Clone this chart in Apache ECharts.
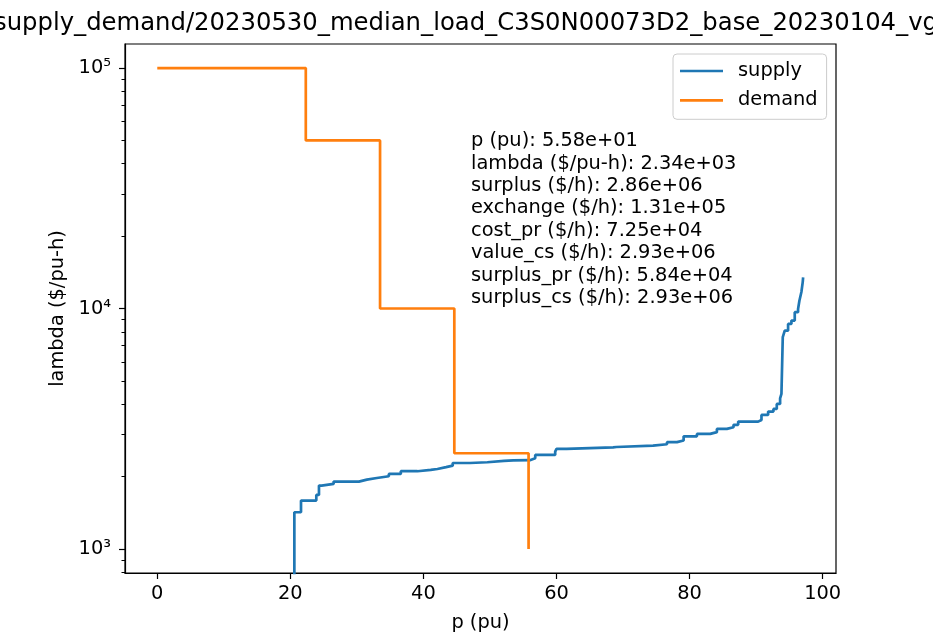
<!DOCTYPE html>
<html><head><meta charset="utf-8">
<script src="https://cdn.jsdelivr.net/npm/echarts@6/dist/echarts.min.js"></script>
<style>html,body{margin:0;padding:0;background:#fff}#c{width:933px;height:633px}</style>
</head><body><div id="c"></div>
<script>
const titleText = "supply_demand/20230530_median_load_C3S0N00073D2_base_20230104_vg";
const xAxisName = "p (pu)";
const yAxisName = "lambda ($/pu-h)";
const seriesNames = ["supply", "demand"];

// supply curve (steps-post: lambda holds from p[i] to p[i+1]); first value lies below the axis
const supplyP = [0, 20.6, 21.6, 23.9, 24.3, 24.7, 26.5, 30.3, 31.5, 33.0, 34.8, 36.6, 39.1, 41.1, 42.1, 43.4, 44.4, 47.0, 49.6, 52.1, 53.5, 56.0, 56.8, 59.8, 60.0, 61.5, 68.5, 69.0, 74.5, 76.6, 78.1, 79.1, 81.1, 83.1, 84.1, 85.6, 86.6, 87.3, 90.3, 90.8, 91.8, 92.6, 93.1, 93.6, 93.8, 94.0, 94.3, 94.8, 95.3, 95.8, 96.3, 96.5, 96.8, 97.0, 97.06];
const supplyLambda = [1, 1421, 1589, 1677, 1834, 1864, 1906, 1942, 1973, 2006, 2051, 2105, 2131, 2151, 2189, 2220, 2278, 2294, 2323, 2337, 2340, 2383, 2461, 2540, 2605, 2645, 2654, 2689, 2725, 2780, 2824, 2941, 3010, 3060, 3157, 3207, 3282, 3385, 3438, 3609, 3725, 3823, 4011, 4232, 4415, 7598, 8089, 8629, 8909, 9651, 9955, 10770, 11710, 12880, 13470];

const demandP = [0, 22.32, 33.48, 44.64, 55.8];
const demandLambda = [100000, 50000, 10000, 2500, 1000];

const xTicks = [0, 20, 40, 60, 80, 100];
const yMajorTicks = [1000, 10000, 100000];
const yMajorLabels = ["10³", "10⁴", "10⁵"];
const yMinorTicks = [800, 900, 2000, 3000, 4000, 5000, 6000, 7000, 8000, 9000, 20000, 30000, 40000, 50000, 60000, 70000, 80000, 90000];

const statsLines = [
  "p (pu): 5.58e+01",
  "lambda ($/pu-h): 2.34e+03",
  "surplus ($/h): 2.86e+06",
  "exchange ($/h): 1.31e+05",
  "cost_pr ($/h): 7.25e+04",
  "value_cs ($/h): 2.93e+06",
  "surplus_pr ($/h): 5.84e+04",
  "surplus_cs ($/h): 2.93e+06"
];

const FF = "DejaVu Sans";
const FS = 19.4;
const colors = ["#1f77b4", "#ff7f0e"];

const zip = (a, b) => a.map((v, i) => [v, b[i]]);

const chart = echarts.init(document.getElementById('c'), null, {renderer: 'canvas'});
chart.setOption({
  animation: false,
  textStyle: {fontFamily: FF, color: '#000'},
  grid: {left: 125, right: 97, top: 44, bottom: 60, show: true, borderColor: '#000', borderWidth: 1.2, backgroundColor: 'transparent', containLabel: false, outerBoundsMode: 'none'},
  xAxis: {
    type: 'value', min: -4.85, max: 102.0,
    name: xAxisName, nameLocation: 'middle', nameGap: 40,
    nameTextStyle: {fontSize: FS, color: '#000', fontFamily: FF},
    axisLine: {show: true, onZero: false, lineStyle: {color: '#000', width: 1.2}},
    axisTick: {show: true, customValues: xTicks, length: 6, lineStyle: {color: '#000', width: 1.2}},
    axisLabel: {customValues: xTicks, margin: 11, fontSize: FS, color: '#000', fontFamily: FF},
    splitLine: {show: false}
  },
  yAxis: [{
    type: 'log', logBase: 10, min: 794.3, max: 125893,
    name: yAxisName, nameLocation: 'middle', nameGap: 47, nameRotate: 90,
    nameTextStyle: {fontSize: FS, color: '#000', fontFamily: FF},
    axisLine: {show: true, onZero: false, lineStyle: {color: '#000', width: 1.2}},
    axisTick: {show: true, customValues: yMajorTicks, length: 6, lineStyle: {color: '#000', width: 1.2}},
    axisLabel: {customValues: yMajorTicks, margin: 14, fontSize: FS, color: '#000', fontFamily: FF,
      formatter: v => yMajorLabels[Math.round(Math.log10(v)) - 3]},
    splitLine: {show: false}
  }, {
    type: 'log', logBase: 10, min: 794.3, max: 125893, position: 'left',
    axisLine: {show: false, onZero: false},
    axisTick: {show: true, customValues: yMinorTicks, length: 3.5, lineStyle: {color: '#000', width: 1}},
    axisLabel: {show: false},
    splitLine: {show: false}
  }],
  legend: {
    data: seriesNames.map((n, i) => ({name: n, icon: 'rect', itemStyle: {color: colors[i]}})),
    orient: 'vertical', left: 673, top: 54,
    padding: [7, 9, 9, 7], itemWidth: 43, itemHeight: 2.7, itemGap: 9.3,
    borderColor: '#cccccc', borderWidth: 1, borderRadius: 4, backgroundColor: 'rgba(255,255,255,0.8)',
    textStyle: {fontSize: FS, color: '#000', fontFamily: FF, lineHeight: 20, padding: [0, 0, 0, 10]}
  },
  graphic: [
    {type: 'text', x: -6, y: 12, style: {text: titleText, font: '24.3px "DejaVu Sans"', fill: '#000'}},
    {type: 'text', x: 471, y: 130, style: {text: statsLines.join('\n'), fontSize: FS, fontFamily: FF, lineHeight: 22.4, fill: '#000'}}
  ],
  series: [
    {name: seriesNames[0], type: 'line', step: 'end', symbol: 'none', data: zip(supplyP, supplyLambda), clip: true,
      lineStyle: {color: colors[0], width: 2.7}, itemStyle: {color: colors[0]}},
    {name: seriesNames[1], type: 'line', step: 'end', symbol: 'none', data: zip(demandP, demandLambda), clip: true,
      lineStyle: {color: colors[1], width: 2.7}, itemStyle: {color: colors[1]}}
  ]
});
</script></body></html>
